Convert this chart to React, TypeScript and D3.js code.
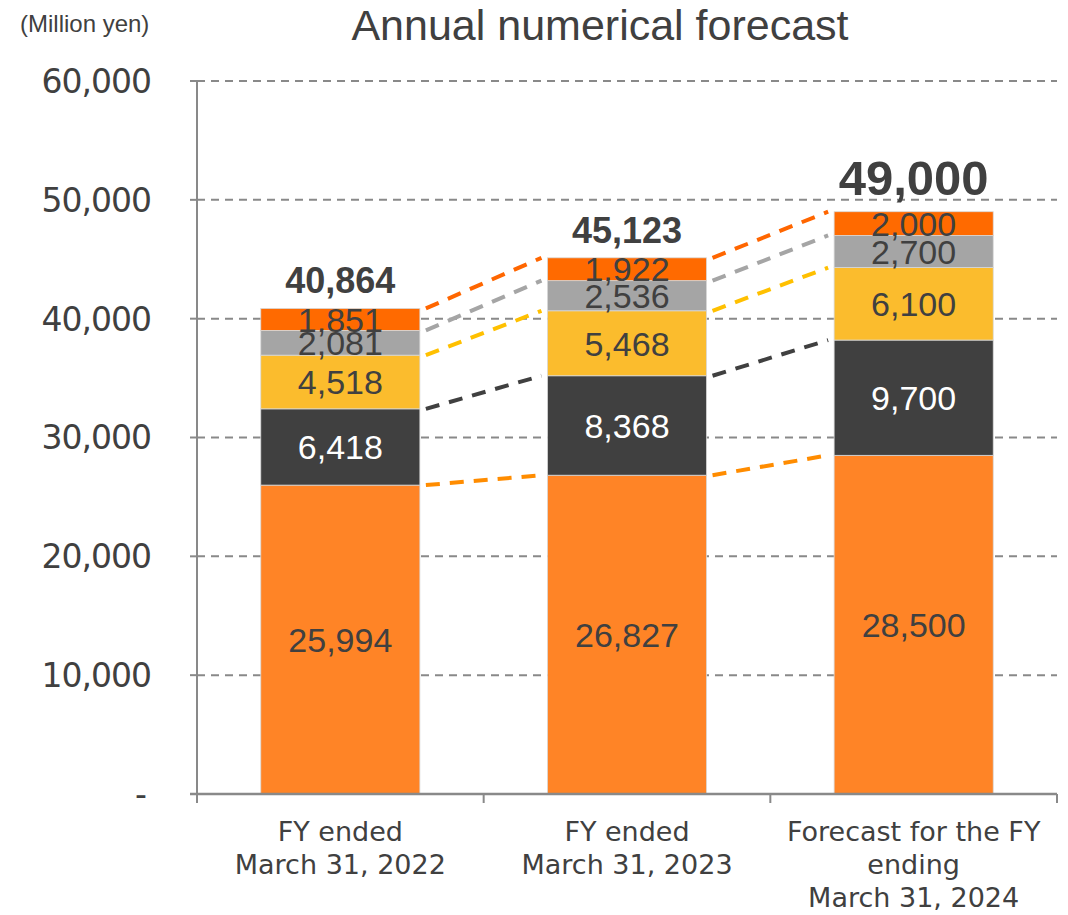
import React from "react";
import * as d3 from "d3";

// Fiscal years shown on the category axis (each entry is a list of lines)
const categories: string[][] = [
  ["FY ended", "March 31, 2022"],
  ["FY ended", "March 31, 2023"],
  ["Forecast for the FY", "ending", "March 31, 2024"],
];

// Stacked segments, bottom to top (million yen)
const baseSeries = [25994, 26827, 28500];
const darkSeries = [6418, 8368, 9700];
const yellowSeries = [4518, 5468, 6100];
const graySeries = [2081, 2536, 2700];
const topSeries = [1851, 1922, 2000];

// Stated totals
const totals = [40864, 45123, 49000];

const yTicks = [0, 10000, 20000, 30000, 40000, 50000, 60000];

const seriesList = [
  { values: baseSeries, fill: "#FF8426", line: "#FF8C00", text: "#404040" },
  { values: darkSeries, fill: "#404040", line: "#404040", text: "#FFFFFF" },
  { values: yellowSeries, fill: "#FBBC2D", line: "#FFC000", text: "#404040" },
  { values: graySeries, fill: "#A5A5A5", line: "#A5A5A5", text: "#404040" },
  { values: topSeries, fill: "#FF6A00", line: "#FF6600", text: "#404040" },
];

const W = 1068;
const H = 915;
const left = 197;
const right = 1057;
const top = 81;
const bottom = 794;

const ARIAL = "'Liberation Sans', Arial, sans-serif";
const TAHOMA = "'DejaVu Sans', Verdana, sans-serif";
const fmt = d3.format(",");

export default function App() {
  const y = d3.scaleLinear().domain([0, 60000]).range([bottom, top]);
  const x = d3
    .scaleBand<number>()
    .domain(categories.map((_, i) => i))
    .range([left, right])
    .padding(0);
  const barW = x.bandwidth() * 0.555;
  const barX = (i: number) => (x(i) as number) + (x.bandwidth() - barW) / 2;

  // cumulative stack boundaries per series per category
  const stacks = seriesList.map((_, s) =>
    categories.map((__, i) => {
      let lo = 0;
      for (let k = 0; k < s; k++) lo += seriesList[k].values[i];
      return [lo, lo + seriesList[s].values[i]] as [number, number];
    })
  );

  const axisColor = "#898989";

  return (
    <svg
      width={W}
      height={H}
      style={{ position: "absolute", left: 0, top: 0, background: "#fff" }}
    >
      {/* unit */}
      <text x={20} y={32} fontFamily={ARIAL} fontSize={24} fill="#404040">
        (Million yen)
      </text>
      {/* title */}
      <text
        x={600}
        y={40}
        textAnchor="middle"
        fontFamily={ARIAL}
        fontSize={43}
        fill="#404040"
      >
        Annual numerical forecast
      </text>

      {/* gridlines */}
      {yTicks
        .filter((t) => t > 0)
        .map((t) => (
          <line
            key={"g" + t}
            x1={left}
            x2={right}
            y1={y(t)}
            y2={y(t)}
            stroke={axisColor}
            strokeWidth={2}
            strokeDasharray="8,6"
          />
        ))}

      {/* y tick labels */}
      {yTicks.map((t) => (
        <text
          key={"yl" + t}
          x={t === 0 ? 146 : 151}
          y={y(t)}
          dy="0.36em"
          textAnchor="end"
          fontFamily={TAHOMA}
          fontSize={33}
          letterSpacing={-1}
          fill="#404040"
        >
          {t === 0 ? "-" : fmt(t)}
        </text>
      ))}

      {/* connector lines between bars */}
      {seriesList.map((s, si) =>
        categories.slice(0, -1).map((_, i) => (
          <line
            key={`c${si}-${i}`}
            x1={barX(i) + barW + 6}
            x2={barX(i + 1) - 6}
            y1={y(stacks[si][i][1])}
            y2={y(stacks[si][i + 1][1])}
            stroke={s.line}
            strokeWidth={4}
            strokeDasharray="14,10"
          />
        ))
      )}

      {/* bars */}
      {seriesList.map((s, si) =>
        categories.map((_, i) => (
          <rect
            key={`b${si}-${i}`}
            x={barX(i)}
            width={barW}
            y={y(stacks[si][i][1])}
            height={y(stacks[si][i][0]) - y(stacks[si][i][1])}
            fill={s.fill}
            stroke="#d9d9d9"
            strokeWidth={0.8}
          />
        ))
      )}

      {/* segment labels */}
      {seriesList.map((s, si) =>
        categories.map((_, i) => (
          <text
            key={`l${si}-${i}`}
            x={barX(i) + barW / 2}
            y={y((stacks[si][i][0] + stacks[si][i][1]) / 2)}
            dy="0.36em"
            textAnchor="middle"
            fontFamily={ARIAL}
            fontSize={34}
            fill={s.text}
          >
            {fmt(s.values[i])}
          </text>
        ))
      )}

      {/* totals */}
      {totals.map((t, i) => (
        <text
          key={"t" + i}
          x={barX(i) + barW / 2}
          y={y(t) - (i === 2 ? 17 : 15)}
          textAnchor="middle"
          fontFamily={ARIAL}
          fontWeight="bold"
          fontSize={i === 2 ? 49 : 36}
          fill="#404040"
        >
          {fmt(t)}
        </text>
      ))}

      {/* axes */}
      <line x1={left} x2={left} y1={top} y2={bottom} stroke={axisColor} strokeWidth={2} />
      {yTicks.map((t) => (
        <line
          key={"yt" + t}
          x1={left - 7}
          x2={left}
          y1={y(t)}
          y2={y(t)}
          stroke={axisColor}
          strokeWidth={2}
        />
      ))}
      <line x1={left - 7} x2={right} y1={bottom} y2={bottom} stroke={axisColor} strokeWidth={2.5} />
      {[...x.domain().map((d) => x(d) as number), right].map((p, i) => (
        <line
          key={"xt" + i}
          x1={p}
          x2={p}
          y1={bottom}
          y2={bottom + 9}
          stroke={axisColor}
          strokeWidth={2}
        />
      ))}

      {/* category labels */}
      {categories.map((lines, i) => (
        <text
          key={"cat" + i}
          x={(x(i) as number) + x.bandwidth() / 2}
          y={841}
          textAnchor="middle"
          fontFamily={TAHOMA}
          fontSize={27}
          fill="#404040"
        >
          {lines.map((ln, j) => (
            <tspan key={j} x={(x(i) as number) + x.bandwidth() / 2} dy={j === 0 ? 0 : 33}>
              {ln}
            </tspan>
          ))}
        </text>
      ))}
    </svg>
  );
}
